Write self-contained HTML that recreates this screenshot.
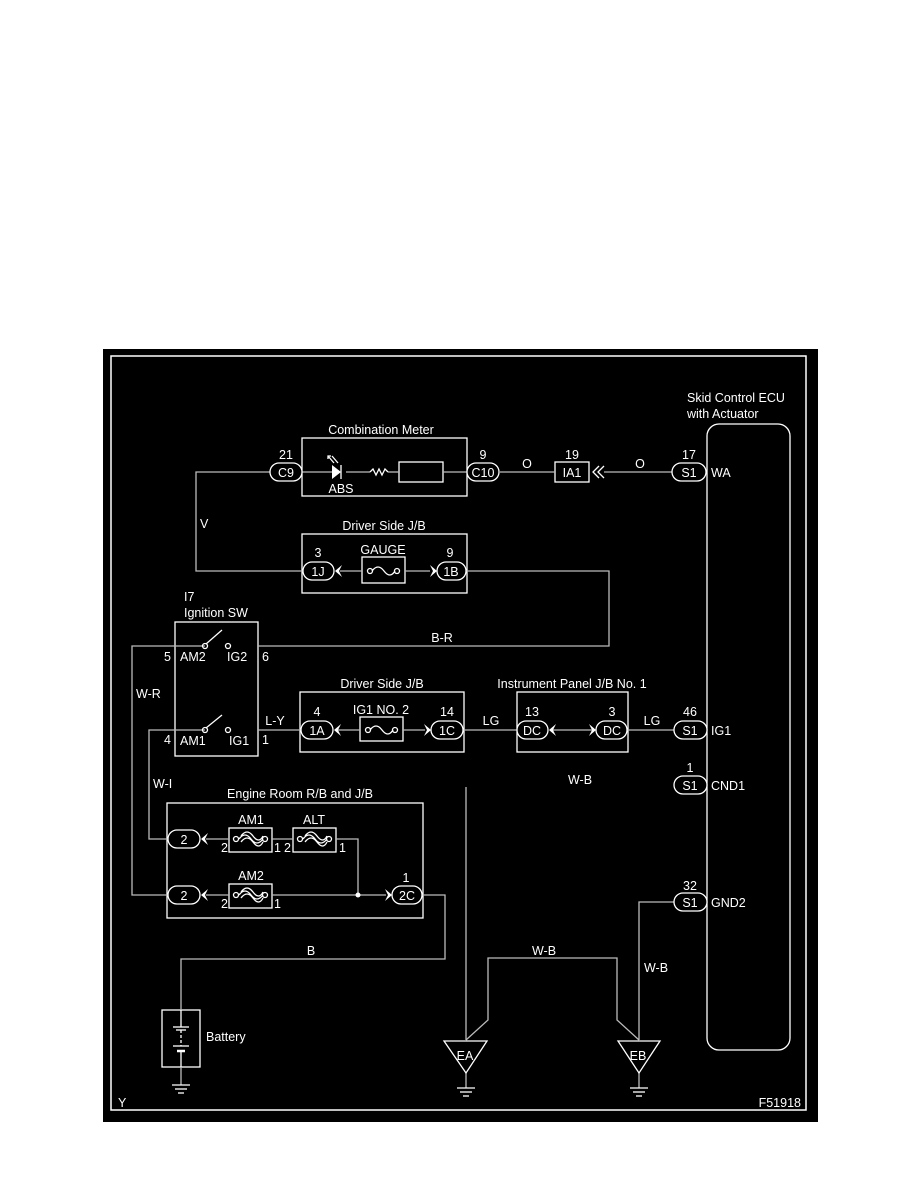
<!DOCTYPE html>
<html><head><meta charset="utf-8"><style>
html,body{margin:0;padding:0;background:#fff;}
svg{display:block;}
text{font-family:"Liberation Sans",Arial,sans-serif;fill:#fff;font-size:12.5px;}
</style></head><body>
<svg width="918" height="1188" viewBox="0 0 918 1188" xmlns="http://www.w3.org/2000/svg">
<rect x="0" y="0" width="918" height="1188" fill="#fff"/>
<rect x="103" y="349" width="715" height="773" fill="#000"/>
<rect x="111" y="356" width="695" height="754" fill="none" stroke="#fff" stroke-width="1.5"/>
<g fill="none" stroke="#fff" stroke-width="1.3">
<rect x="302" y="438" width="165" height="58"/>
<rect x="302" y="534" width="165" height="59"/>
<rect x="175" y="622" width="83" height="134"/>
<rect x="300" y="692" width="164" height="60"/>
<rect x="517" y="692" width="111" height="60"/>
<rect x="167" y="803" width="256" height="115"/>
<rect x="707" y="424" width="83" height="626" rx="12"/>
<rect x="162" y="1010" width="38" height="57"/>
<rect x="362" y="557" width="43" height="26"/>
<rect x="360" y="717" width="43" height="24"/>
<rect x="229" y="828" width="43" height="24"/>
<rect x="293" y="828" width="43" height="24"/>
<rect x="229" y="884" width="43" height="24"/>
<rect x="399" y="462" width="44" height="20"/>
<rect x="555" y="462" width="34" height="20"/>
</g>
<g fill="none" stroke="#bbb" stroke-width="1.3">
<polyline points="270,472 196,472 196,571 303,571"/>
<line x1="302" y1="472" x2="332" y2="472"/>
<line x1="346" y1="472" x2="370" y2="472"/>
<line x1="388" y1="472" x2="399" y2="472"/>
<line x1="443" y1="472" x2="467" y2="472"/>
<line x1="500" y1="472" x2="555" y2="472"/>
<line x1="604" y1="472" x2="672" y2="472"/>
<line x1="340" y1="571" x2="362" y2="571"/>
<line x1="405" y1="571" x2="430" y2="571"/>
<polyline points="466,571 609,571 609,646 258,646"/>
<polyline points="205,646 132,646 132,895 168,895"/>
<polyline points="205,730 149,730 149,839 168,839"/>
<line x1="258" y1="730" x2="301" y2="730"/>
<line x1="338" y1="730" x2="360" y2="730"/>
<line x1="403" y1="730" x2="425" y2="730"/>
<line x1="463" y1="730" x2="517" y2="730"/>
<line x1="553" y1="730" x2="592" y2="730"/>
<line x1="627" y1="730" x2="674" y2="730"/>
<line x1="206" y1="839" x2="229" y2="839"/>
<line x1="272" y1="839" x2="293" y2="839"/>
<polyline points="336,839 358,839 358,895"/>
<line x1="206" y1="895" x2="229" y2="895"/>
<line x1="272" y1="895" x2="386" y2="895"/>
<polyline points="422,895 445,895 445,959 181,959 181,1010"/>
<line x1="181" y1="1067" x2="181" y2="1085"/>
<line x1="466" y1="787" x2="466" y2="1040"/>
<polyline points="466,1040 488,1020 488,958 617,958 617,1020 639,1040"/>
<polyline points="674,902 639,902 639,1040"/>
<line x1="466" y1="1073" x2="466" y2="1088"/>
<line x1="639" y1="1073" x2="639" y2="1088"/>
</g>
<circle cx="358" cy="895" r="2.5" fill="#fff"/>
<g fill="#000" stroke="#fff" stroke-width="1.3">
<rect x="270" y="463" width="32" height="18" rx="9"/>
<rect x="467" y="463" width="32" height="18" rx="9"/>
<rect x="672" y="463" width="34" height="18" rx="9"/>
<rect x="303" y="562" width="31" height="18" rx="9"/>
<rect x="437" y="562" width="29" height="18" rx="9"/>
<rect x="301" y="721" width="32" height="18" rx="9"/>
<rect x="431" y="721" width="32" height="18" rx="9"/>
<rect x="517" y="721" width="31" height="18" rx="9"/>
<rect x="596" y="721" width="31" height="18" rx="9"/>
<rect x="674" y="721" width="33" height="18" rx="9"/>
<rect x="674" y="776" width="33" height="18" rx="9"/>
<rect x="674" y="893" width="33" height="18" rx="9"/>
<rect x="168" y="830" width="32" height="18" rx="9"/>
<rect x="168" y="886" width="32" height="18" rx="9"/>
<rect x="392" y="886" width="30" height="18" rx="9"/>
</g>
<g fill="#fff">
<polygon points="342,565 335,571 342,577 339,571"/>
<polygon points="430,565 437,571 430,577 433,571"/>
<polygon points="341,724 334,730 341,736 338,730"/>
<polygon points="424,724 431,730 424,736 427,730"/>
<polygon points="556,724 549,730 556,736 553,730"/>
<polygon points="589,724 596,730 589,736 592,730"/>
<polygon points="208,833 201,839 208,845 205,839"/>
<polygon points="208,889 201,895 208,901 205,895"/>
<polygon points="385,889 392,895 385,901 388,895"/>
<polygon points="332,465 332,479 341,472"/>
</g>
<g fill="none" stroke="#fff" stroke-width="1.3">
<line x1="341" y1="465" x2="341" y2="479"/>
<line x1="334" y1="463" x2="328" y2="456"/>
<polyline points="328,459 328,456 331,456"/>
<line x1="338" y1="463" x2="332" y2="456"/>
<polyline points="370,472 373,469 376,475 379,469 382,475 385,469 388,472"/>
<polyline points="599,466 593,472 599,478"/>
<polyline points="604,466 598,472 604,478"/>
<circle cx="370" cy="571" r="2.5"/><circle cx="397" cy="571" r="2.5"/>
<path d="M372,571 q6,-8 12,0 q6,8 11,0"/>
<circle cx="368" cy="730" r="2.5"/><circle cx="395" cy="730" r="2.5"/>
<path d="M370,730 q6,-8 12,0 q6,8 11,0"/>
<circle cx="236" cy="839" r="2.5"/><circle cx="265" cy="839" r="2.5"/>
<path d="M239,839 q6,-8 12,0 q6,8 12,0 M241,836 q6,-8 12,0 q6,8 10,0 M241,842 q6,-8 12,0 q6,8 10,0"/>
<circle cx="300" cy="839" r="2.5"/><circle cx="329" cy="839" r="2.5"/>
<path d="M303,839 q6,-8 12,0 q6,8 12,0 M305,836 q6,-8 12,0 q6,8 10,0 M305,842 q6,-8 12,0 q6,8 10,0"/>
<circle cx="236" cy="895" r="2.5"/><circle cx="265" cy="895" r="2.5"/>
<path d="M239,895 q6,-8 12,0 q6,8 12,0 M241,892 q6,-8 12,0 q6,8 10,0 M241,898 q6,-8 12,0 q6,8 10,0"/>
<circle cx="205" cy="646" r="2.5"/><circle cx="228" cy="646" r="2.5"/>
<line x1="206" y1="644" x2="222" y2="630"/>
<circle cx="205" cy="730" r="2.5"/><circle cx="228" cy="730" r="2.5"/>
<line x1="206" y1="728" x2="222" y2="715"/>
<polygon points="444,1041 487,1041 466,1073"/>
<polygon points="618,1041 660,1041 639,1073"/>
<line x1="457" y1="1088" x2="475" y2="1088"/><line x1="460" y1="1092" x2="472" y2="1092"/><line x1="463" y1="1096" x2="469" y2="1096"/>
<line x1="630" y1="1088" x2="648" y2="1088"/><line x1="633" y1="1092" x2="645" y2="1092"/><line x1="636" y1="1096" x2="642" y2="1096"/>
<line x1="172" y1="1085" x2="190" y2="1085"/><line x1="175" y1="1089" x2="187" y2="1089"/><line x1="178" y1="1093" x2="184" y2="1093"/>
<line x1="181" y1="1010" x2="181" y2="1027"/>
<line x1="173" y1="1027" x2="189" y2="1027"/>
<line x1="176" y1="1030" x2="186" y2="1030"/>
<line x1="181" y1="1030" x2="181" y2="1046" stroke-dasharray="3,2"/>
<line x1="173" y1="1046" x2="189" y2="1046"/>
<line x1="177" y1="1051" x2="185" y2="1051" stroke-width="2.5"/>
<line x1="181" y1="1051" x2="181" y2="1067"/>
</g>
<text x="381" y="434" text-anchor="middle">Combination Meter</text>
<text x="286" y="459" text-anchor="middle">21</text>
<text x="286" y="477" text-anchor="middle">C9</text>
<text x="341" y="493" text-anchor="middle">ABS</text>
<text x="483" y="459" text-anchor="middle">9</text>
<text x="483" y="477" text-anchor="middle">C10</text>
<text x="527" y="468" text-anchor="middle">O</text>
<text x="572" y="459" text-anchor="middle">19</text>
<text x="572" y="477" text-anchor="middle">IA1</text>
<text x="640" y="468" text-anchor="middle">O</text>
<text x="689" y="459" text-anchor="middle">17</text>
<text x="689" y="477" text-anchor="middle">S1</text>
<text x="711" y="477">WA</text>
<text x="687" y="402">Skid Control ECU</text>
<text x="687" y="418">with Actuator</text>
<text x="200" y="528">V</text>
<text x="384" y="530" text-anchor="middle">Driver Side J/B</text>
<text x="383" y="554" text-anchor="middle">GAUGE</text>
<text x="318" y="557" text-anchor="middle">3</text>
<text x="318" y="576" text-anchor="middle">1J</text>
<text x="450" y="557" text-anchor="middle">9</text>
<text x="451" y="576" text-anchor="middle">1B</text>
<text x="184" y="601">I7</text>
<text x="184" y="617">Ignition SW</text>
<text x="442" y="642" text-anchor="middle">B-R</text>
<text x="164" y="661">5</text>
<text x="180" y="661">AM2</text>
<text x="227" y="661">IG2</text>
<text x="262" y="661">6</text>
<text x="136" y="698">W-R</text>
<text x="382" y="688" text-anchor="middle">Driver Side J/B</text>
<text x="572" y="688" text-anchor="middle">Instrument Panel J/B No. 1</text>
<text x="381" y="714" text-anchor="middle">IG1 NO. 2</text>
<text x="317" y="716" text-anchor="middle">4</text>
<text x="317" y="735" text-anchor="middle">1A</text>
<text x="447" y="716" text-anchor="middle">14</text>
<text x="447" y="735" text-anchor="middle">1C</text>
<text x="275" y="725" text-anchor="middle">L-Y</text>
<text x="491" y="725" text-anchor="middle">LG</text>
<text x="532" y="716" text-anchor="middle">13</text>
<text x="532" y="735" text-anchor="middle">DC</text>
<text x="612" y="716" text-anchor="middle">3</text>
<text x="612" y="735" text-anchor="middle">DC</text>
<text x="652" y="725" text-anchor="middle">LG</text>
<text x="690" y="716" text-anchor="middle">46</text>
<text x="690" y="735" text-anchor="middle">S1</text>
<text x="711" y="735">IG1</text>
<text x="164" y="744">4</text>
<text x="180" y="745">AM1</text>
<text x="229" y="745">IG1</text>
<text x="262" y="744">1</text>
<text x="580" y="784" text-anchor="middle">W-B</text>
<text x="690" y="772" text-anchor="middle">1</text>
<text x="690" y="790" text-anchor="middle">S1</text>
<text x="711" y="790">CND1</text>
<text x="153" y="788">W-I</text>
<text x="300" y="798" text-anchor="middle">Engine Room R/B and J/B</text>
<text x="251" y="824" text-anchor="middle">AM1</text>
<text x="314" y="824" text-anchor="middle">ALT</text>
<text x="184" y="844" text-anchor="middle">2</text>
<text x="221" y="852">2</text><text x="274" y="852">1</text><text x="284" y="852">2</text><text x="339" y="852">1</text>
<text x="251" y="880" text-anchor="middle">AM2</text>
<text x="184" y="900" text-anchor="middle">2</text>
<text x="221" y="908">2</text><text x="274" y="908">1</text>
<text x="406" y="882" text-anchor="middle">1</text>
<text x="407" y="900" text-anchor="middle">2C</text>
<text x="690" y="890" text-anchor="middle">32</text>
<text x="690" y="907" text-anchor="middle">S1</text>
<text x="711" y="907">GND2</text>
<text x="311" y="955" text-anchor="middle">B</text>
<text x="544" y="955" text-anchor="middle">W-B</text>
<text x="656" y="972" text-anchor="middle">W-B</text>
<text x="206" y="1041">Battery</text>
<text x="465" y="1060" text-anchor="middle">EA</text>
<text x="638" y="1060" text-anchor="middle">EB</text>
<text x="118" y="1107" font-size="9">Y</text>
<text x="801" y="1107" font-size="8" text-anchor="end">F51918</text>
</svg>
</body></html>
